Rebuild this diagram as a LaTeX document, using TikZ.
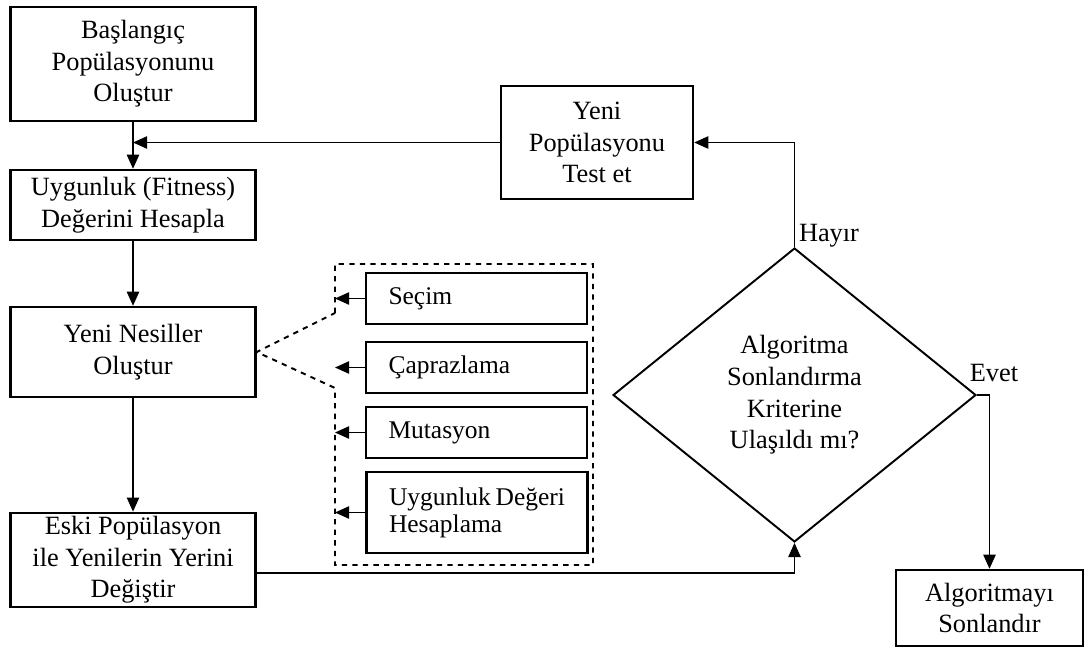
\documentclass[tikz,border=0pt]{standalone}
\usepackage{fontspec}
\setmainfont{Liberation Serif}
\usepackage{tikz}
\usetikzlibrary{arrows.meta,positioning,shapes.geometric}

\begin{document}
\begin{tikzpicture}[
  x=0.02cm, y=-0.02cm,
  font=\fontsize{15}{18}\selectfont,
  box/.style={draw, line width=1.4pt, align=center, inner sep=2pt, minimum width=4.9cm},
  sub/.style={draw, line width=1.4pt, align=left, font=\fontsize{14.5}{15.5}\selectfont, text width=3.52cm, inner xsep=0.45cm, inner ysep=2pt, minimum height=1.02cm},
  arr/.style={-{Triangle[length=8pt,width=7pt]}, line width=0.8pt}
]
  \useasboundingbox (0,0) rectangle (1086,647);
  % sol sutun
  \node[box, minimum height=2.28cm] (basla) at (133,64) {Başlangıç\\Popülasyonunu\\Oluştur};
  \node[box, minimum height=1.4cm] (uyg) at (133,205) {Uygunluk (Fitness)\\Değerini Hesapla};
  \node[box, minimum height=1.8cm] (nesil) at (133,352) {Yeni Nesiller\\Oluştur};
  \node[box, minimum height=1.76cm] (eski) at (133,560) {Eski Popülasyon\\ile Yenilerin Yerini\\Değiştir};
  % sag taraf
  \node[box, minimum width=3.84cm, minimum height=2.26cm] (yenipop) at (597,142.5) {Yeni\\Popülasyonu\\Test et};
  \node[draw, diamond, line width=1.1pt, align=center, inner sep=0pt, minimum width=7.26cm, minimum height=5.88cm] (karar) at (794.5,395) {Algoritma\\Sonlandırma\\Kriterine\\Ulaşıldı mı?};
  \node[box, minimum width=3.74cm, minimum height=1.52cm] (bitir) at (989.5,608) {Algoritmayı\\Sonlandır};
  % operatorler
  \node[sub] (secim) at (476.5,298.5) {Seçim};
  \node[sub] (capraz) at (476.5,367.5) {Çaprazlama};
  \node[sub] (mut) at (476.5,432.5) {Mutasyon};
  \node[sub, minimum height=1.62cm] (uygd) at (477,512.5) {Uygunluk\hfill Değeri\\Hesaplama};
  \coordinate (dk) at (335,264);
  \draw[dashed, line width=1.1pt] (335,313) -- (dk) -- (593,264) -- (593,565) -- (335,565) -- (335,388) -- (nesil.east) -- (335,313);
  \foreach \n in {secim,capraz,mut,uygd}
    \draw[arr] (\n.west) -- (\n.west -| dk);
  % baglantilar
  \draw[arr] (basla) -- (uyg);
  \draw[arr] (yenipop.west) -- (yenipop.west -| basla.south);
  \draw[arr] (uyg) -- (nesil);
  \draw[arr] (nesil) -- (eski);
  \draw[arr] ([yshift=-0.26cm]eski.east) -| (karar.south);
  \draw[arr] (karar.north) |- (yenipop.east);
  \draw[arr] (karar.east) -| (bitir.north);
  \node (hayir) at (829,236) {Hayır};
  \node (evet) at (994,373) {Evet};
\end{tikzpicture}
\end{document}
